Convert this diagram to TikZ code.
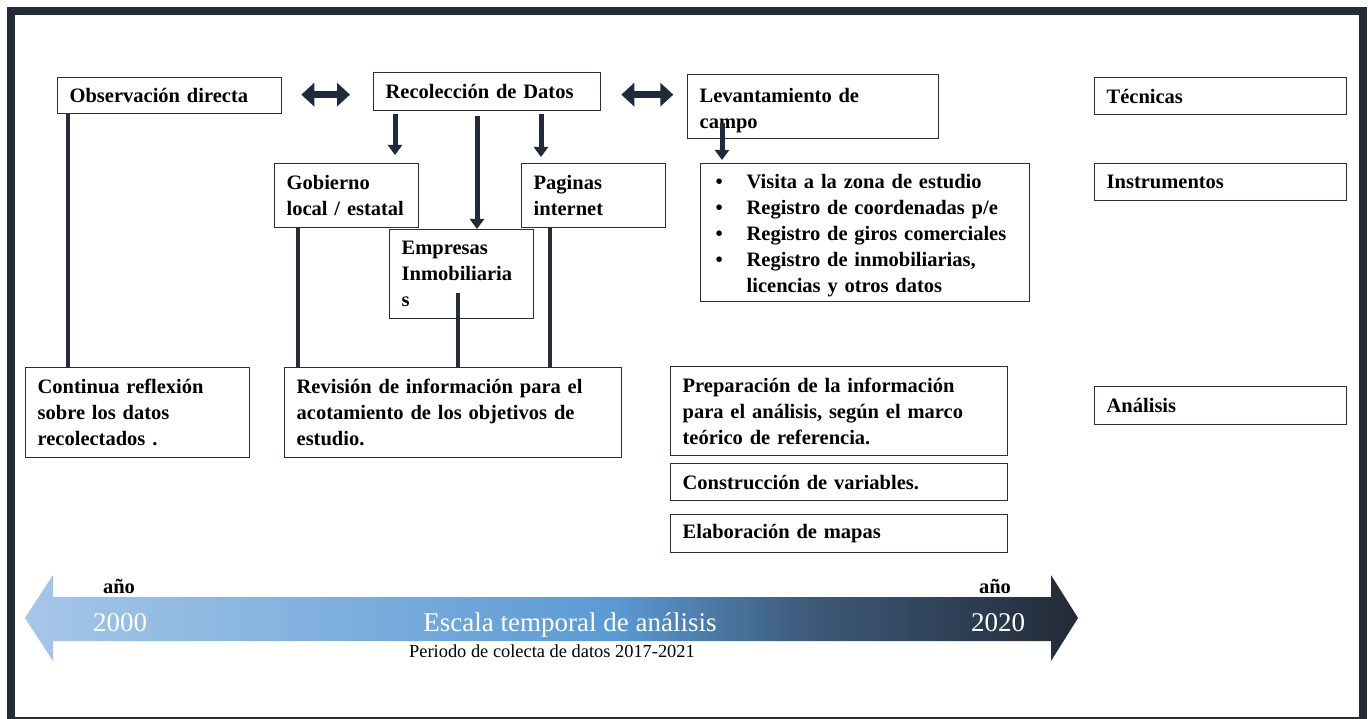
\documentclass[tikz,border=0pt]{standalone}
\usepackage{fontspec}
\setmainfont{Liberation Serif}
\usetikzlibrary{arrows.meta,calc}
\definecolor{frame}{HTML}{262C37}
\definecolor{navy}{HTML}{1F2A3C}
\definecolor{boxline}{HTML}{2A2E35}
\definecolor{tlA}{HTML}{A6C6E8}
\definecolor{tlB}{HTML}{5B9AD4}
\definecolor{tlC}{HTML}{3E5B7B}
\definecolor{tlD}{HTML}{222A36}
\pgfdeclarehorizontalshading{timeline}{100bp}{color(0bp)=(tlA); color(25bp)=(tlA); color(53bp)=(tlB); color(62bp)=(tlC); color(75bp)=(tlD); color(100bp)=(tlD)}
\newcommand\lowerby[3]{\raisebox{-#1}[\height][\depth]{\parbox{#2}{\raggedright #3}}}
\tikzset{
  box/.style 2 args={draw=boxline, line width=1.3pt, anchor=north west, inner xsep=12pt, inner ysep=0pt,
    text width=#1, minimum height=#2, align=left},
  dbl/.style={navy, line width=7pt, {Triangle[width=23pt,length=13pt]}-{Triangle[width=23pt,length=13pt]}},
  darr/.style={navy, line width=5pt, -{Triangle[width=14pt,length=10pt]}},
  vline/.style={frame, line width=3.5pt},
  tl/.style={text=white, anchor=base, inner sep=0pt, font=\fontsize{27}{30}\selectfont},
  ano/.style={anchor=base, inner sep=0pt},
  per/.style={anchor=base, inner sep=0pt, font=\fontsize{18.4}{20}\selectfont}
}
\begin{document}
\begin{tikzpicture}[x=1pt, y=-1pt, font=\fontsize{20.5}{26}\selectfont\bfseries]
\useasboundingbox (0,0) rectangle (1368,719);
\fill[white] (0,0) rectangle (1368,719);
\draw[frame, line width=8pt] (11,11) rectangle (1363,721);

% boxes
\node[box={200pt}{36pt}] (obs) at (57,77) {Observación directa};
\node[box={203pt}{38pt}] (rec) at (373,72) {Recolección de Datos};
\node[box={227pt}{64pt}] (lev) at (687,74) {\lowerby{4pt}{227pt}{Levantamiento de\\campo}};
\node[box={228pt}{37pt}] (tec) at (1094,77) {Técnicas};
\node[box={228pt}{37pt}] (ins) at (1094,163) {Instrumentos};
\node[box={120pt}{64pt}] (gob) at (274,163) {Gobierno\\local / estatal};
\node[box={120pt}{64pt}] (pag) at (521,163) {Paginas\\internet};
\node[box={120pt}{89pt}] (emp) at (389,229) {Empresas\\Inmobiliaria\\s};
\node[box={299pt}{138pt}, inner xsep=15pt] (bul) at (700,163) {\lowerby{3pt}{299pt}{%
\makebox[31pt][l]{\textbullet}Visita a la zona de estudio\\
\makebox[31pt][l]{\textbullet}Registro de coordenadas p/e\\
\makebox[31pt][l]{\textbullet}Registro de giros comerciales\\
\makebox[31pt][l]{\textbullet}Registro de inmobiliarias,\\
\hspace*{31pt}licencias y otros datos}};
\node[box={200pt}{90pt}] (cont) at (25,367) {Continua reflexión\\sobre los datos\\recolectados .};
\node[box={313pt}{90pt}] (rev) at (284,367) {Revisión de información para el\\acotamiento de los objetivos de\\estudio.};
\node[box={313pt}{89pt}] (prep) at (670,366) {Preparación de la información\\para el análisis, según el marco\\teórico de referencia.};
\node[box={313pt}{37pt}] (cons) at (670,463) {Construcción de variables.};
\node[box={313pt}{38pt}] (elab) at (670,514) {Elaboración de mapas};
\node[box={228pt}{38pt}] (ana) at (1094,386) {Análisis};

% double arrows
\draw[dbl] ($(obs.east)+(19,-1)$) -- ($(rec.west)+(-23,3)$);
\draw[dbl] ($(rec.east)+(20,3)$) -- ($(rec.east)+(72,3)$);

% down arrows
\draw[darr] ($(rec.south west)+(22,3)$) -- ($(gob.north west)+(121,-8)$);
\draw[darr] ($(rec.south west)+(104,5)$) -- ($(emp.north west)+(88,0)$);
\draw[darr] ($(rec.south west)+(168,3)$) -- ($(pag.north west)+(20,-6)$);
\draw[darr] ($(lev.south west)+(35,-16)$) -- ($(bul.north west)+(22,-3)$);

% vertical lines
\draw[vline] ($(obs.south west)+(11,0)$) -- ($(cont.north west)+(43,0)$);
\draw[vline] ($(gob.south west)+(24,0)$) -- ($(rev.north west)+(14,0)$);
\draw[vline] ($(emp.south west)+(69,-26)$) -- ($(rev.north west)+(174,0)$);
\draw[vline] ($(pag.south west)+(29,0)$) -- ($(rev.north west)+(266,0)$);

% timeline
\path[shading=timeline] (25,618) -- (53,575) -- (53,597) -- (1051,597) -- (1051,575) -- (1078,618)
  -- (1051,661) -- (1051,641) -- (53,641) -- (53,661) -- cycle;
\node[tl] (y0) at (120,631) {2000};
\node[tl] (esc) at (570,631) {Escala temporal de análisis};
\node[tl] (y1) at (998,631) {2020};
\node[ano] (a0) at (119,593) {año};
\node[ano] (a1) at (995,593) {año};
\node[per] (per) at (552,657) {Periodo de colecta de datos 2017-2021};
\end{tikzpicture}
\end{document}
